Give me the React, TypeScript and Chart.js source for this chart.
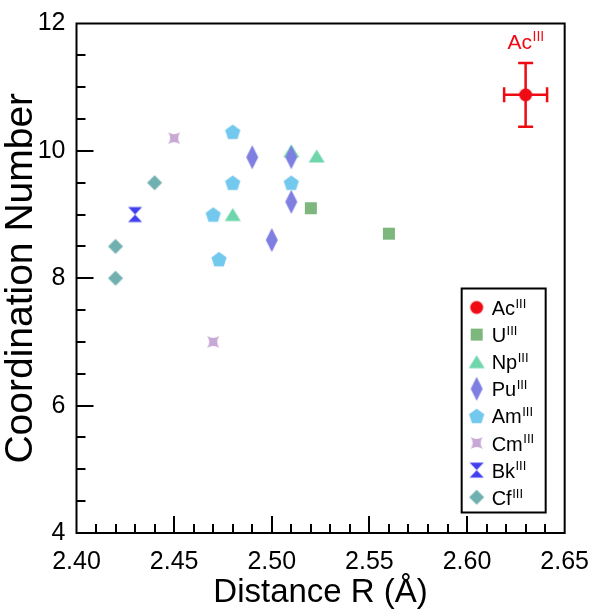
import React, { useEffect, useRef } from "react";
import { Chart, registerables } from "chart.js";

Chart.register(...registerables);

// ---------- data ----------
const seriesNames = ["Ac", "U", "Np", "Pu", "Am", "Cm", "Bk", "Cf"];
const seriesColors = [
  "rgb(240,10,20)",
  "rgb(125,183,125)",
  "rgb(111,214,172)",
  "rgb(127,127,225)",
  "rgb(115,200,238)",
  "rgb(200,168,212)",
  "rgb(64,64,240)",
  "rgb(112,176,176)",
];
const seriesShapes = ["circle", "square", "triangle", "tallDiamond", "pentagon", "star4", "hourglass", "diamond"];

const acX = [2.63];
const acY = [10.88];
const acXErr = [0.011];
const acYErr = [0.5];
const uX = [2.52, 2.56];
const uY = [9.1, 8.7];
const npX = [2.48, 2.51, 2.523];
const npY = [9.0, 10.0, 9.92];
const puX = [2.49, 2.5, 2.51, 2.51];
const puY = [9.9, 8.6, 9.9, 9.2];
const amX = [2.47, 2.473, 2.48, 2.48, 2.51];
const amY = [9.0, 8.3, 9.5, 10.3, 9.5];
const cmX = [2.45, 2.47];
const cmY = [10.2, 7.0];
const bkX = [2.43];
const bkY = [9.0];
const cfX = [2.42, 2.42, 2.44];
const cfY = [8.0, 8.5, 9.5];

const seriesX = [acX, uX, npX, puX, amX, cmX, bkX, cfX];
const seriesY = [acY, uY, npY, puY, amY, cmY, bkY, cfY];

const xMin = 2.4;
const xMax = 2.65;
const xMajorStep = 0.05;
const xMinorStep = 0.01;
const yMin = 4;
const yMax = 12;
const yMajorStep = 2;
const yMinorStep = 0.5;

const FONT = '"Liberation Sans", Arial, Helvetica, sans-serif';

function makeMarker(kind: string, color: string): HTMLCanvasElement {
  const size = 30;
  const c = document.createElement("canvas");
  c.width = size;
  c.height = size;
  const g = c.getContext("2d") as CanvasRenderingContext2D;
  g.fillStyle = color;
  g.translate(size / 2, size / 2);
  g.beginPath();
  switch (kind) {
    case "circle":
      g.arc(0, 0, 6.5, 0, Math.PI * 2);
      break;
    case "square":
      g.rect(-6, -6, 12, 12);
      break;
    case "triangle":
      g.moveTo(0, -6.5);
      g.lineTo(8, 6.5);
      g.lineTo(-8, 6.5);
      g.closePath();
      break;
    case "tallDiamond":
      g.moveTo(0, -12);
      g.lineTo(6, 0);
      g.lineTo(0, 12);
      g.lineTo(-6, 0);
      g.closePath();
      break;
    case "pentagon": {
      const R = 8;
      for (let i = 0; i < 5; i++) {
        const a = (-90 + 72 * i) * (Math.PI / 180);
        const px = R * Math.cos(a);
        const py = R * Math.sin(a) + 0.8;
        if (i === 0) g.moveTo(px, py);
        else g.lineTo(px, py);
      }
      g.closePath();
      break;
    }
    case "star4":
      g.moveTo(-6, -6);
      g.quadraticCurveTo(0, -2, 6, -6);
      g.quadraticCurveTo(2, 0, 6, 6);
      g.quadraticCurveTo(0, 2, -6, 6);
      g.quadraticCurveTo(-2, 0, -6, -6);
      g.closePath();
      break;
    case "hourglass":
      g.moveTo(-7, -7.5);
      g.lineTo(7, -7.5);
      g.lineTo(0, 0);
      g.closePath();
      g.moveTo(-7, 7.5);
      g.lineTo(7, 7.5);
      g.lineTo(0, 0);
      g.closePath();
      break;
    case "diamond":
      g.moveTo(0, -7.5);
      g.lineTo(7.5, 0);
      g.lineTo(0, 7.5);
      g.lineTo(-7.5, 0);
      g.closePath();
      break;
  }
  g.fill();
  return c;
}

function drawSupLabel(ctx: CanvasRenderingContext2D, base: string, sup: string, x: number, baseline: number, size: number, supSize: number, align: "left" | "center") {
  ctx.save();
  ctx.textBaseline = "alphabetic";
  ctx.textAlign = "left";
  ctx.font = `${size}px ${FONT}`;
  const wBase = ctx.measureText(base).width;
  ctx.font = `${supSize}px ${FONT}`;
  const wSup = ctx.measureText(sup).width;
  let x0 = x;
  if (align === "center") x0 = x - (wBase + wSup) / 2;
  ctx.font = `${size}px ${FONT}`;
  ctx.fillText(base, x0, baseline);
  ctx.font = `${supSize}px ${FONT}`;
  ctx.fillText(sup, x0 + wBase + 0.5, baseline - size * 0.36);
  ctx.restore();
}

export default function App() {
  const ref = useRef<HTMLCanvasElement | null>(null);

  useEffect(() => {
    document.body.style.margin = "0";
    const canvas = ref.current;
    if (!canvas) return;
    const markers = seriesShapes.map((s, i) => makeMarker(s, seriesColors[i]));

    const datasets = seriesNames.map((name, i) => ({
      label: name,
      data: seriesX[i].map((x, k) => ({ x, y: seriesY[i][k] })),
      pointStyle: markers[i] as any,
      pointRadius: 5,
      backgroundColor: seriesColors[i],
      borderColor: seriesColors[i],
      order: -i,
    }));

    const decor = {
      id: "decor",
      beforeDatasetsDraw(chart: any) {
        const ctx = chart.ctx as CanvasRenderingContext2D;
        const xs = chart.scales.x;
        const ys = chart.scales.y;
        ctx.save();
        ctx.strokeStyle = seriesColors[0];
        ctx.lineWidth = 2.5;
        for (let k = 0; k < acX.length; k++) {
          const cx = xs.getPixelForValue(acX[k]);
          const cy = ys.getPixelForValue(acY[k]);
          const xl = xs.getPixelForValue(acX[k] - acXErr[k]);
          const xr = xs.getPixelForValue(acX[k] + acXErr[k]);
          const yt = ys.getPixelForValue(acY[k] + acYErr[k]);
          const yb = ys.getPixelForValue(acY[k] - acYErr[k]);
          const cap = 7.5;
          ctx.beginPath();
          ctx.moveTo(xl, cy);
          ctx.lineTo(xr, cy);
          ctx.moveTo(xl, cy - cap);
          ctx.lineTo(xl, cy + cap);
          ctx.moveTo(xr, cy - cap);
          ctx.lineTo(xr, cy + cap);
          ctx.moveTo(cx, yt);
          ctx.lineTo(cx, yb);
          ctx.moveTo(cx - cap, yt);
          ctx.lineTo(cx + cap, yt);
          ctx.moveTo(cx - cap, yb);
          ctx.lineTo(cx + cap, yb);
          ctx.stroke();
          ctx.fillStyle = seriesColors[0];
          drawSupLabel(ctx, "Ac", "III", cx, cy - 46, 21, 14, "center");
        }
        ctx.restore();
      },
      afterDraw(chart: any) {
        const ctx = chart.ctx as CanvasRenderingContext2D;
        const { left, right, top, bottom } = chart.chartArea;
        const xs = chart.scales.x;
        const ys = chart.scales.y;
        ctx.save();
        ctx.strokeStyle = "#000";
        ctx.lineWidth = 2;
        ctx.strokeRect(left, top, right - left, bottom - top);
        ctx.beginPath();
        const nx = Math.round((xMax - xMin) / xMinorStep);
        const perX = Math.round(xMajorStep / xMinorStep);
        for (let i = 1; i < nx; i++) {
          const px = Math.round(xs.getPixelForValue(xMin + i * xMinorStep));
          const len = i % perX === 0 ? 17 : 9;
          ctx.moveTo(px, bottom);
          ctx.lineTo(px, bottom - len);
        }
        const ny = Math.round((yMax - yMin) / yMinorStep);
        const perY = Math.round(yMajorStep / yMinorStep);
        for (let j = 1; j < ny; j++) {
          const py = Math.round(ys.getPixelForValue(yMin + j * yMinorStep));
          const len = j % perY === 0 ? 17 : 9;
          ctx.moveTo(left, py);
          ctx.lineTo(left + len, py);
        }
        ctx.stroke();

        // legend
        const bx = right - 103;
        const by = top + 265;
        const bw = 84;
        const bh = 224;
        ctx.fillStyle = "#fff";
        ctx.fillRect(bx, by, bw, bh);
        ctx.strokeRect(bx, by, bw, bh);
        const step = 27.1;
        for (let i = 0; i < seriesNames.length; i++) {
          const cy = by + 19 + i * step;
          const m = markers[i];
          ctx.drawImage(m, bx + 15 - m.width / 2, cy - m.height / 2);
          ctx.fillStyle = "#000";
          drawSupLabel(ctx, seriesNames[i], "III", bx + 30, cy + 7.5, 20, 13, "left");
        }
        ctx.restore();
      },
    };

    const chart = new Chart(canvas, {
      type: "scatter",
      data: { datasets },
      plugins: [decor],
      options: {
        animation: false,
        responsive: false,
        devicePixelRatio: 1,
        events: [],
        layout: { padding: { top: 13, right: 27, left: 0, bottom: 0 } },
        plugins: {
          legend: { display: false },
          tooltip: { enabled: false },
        },
        scales: {
          x: {
            type: "linear",
            min: xMin,
            max: xMax,
            afterFit(scale: any) {
              scale.height = 78;
            },
            afterBuildTicks(scale: any) {
              const t = [];
              for (let i = 0; i <= Math.round((xMax - xMin) / xMajorStep); i++) t.push({ value: +(xMin + i * xMajorStep).toFixed(2) });
              scale.ticks = t;
            },
            grid: { display: false, drawTicks: false },
            border: { display: false },
            ticks: {
              padding: 14,
              color: "#000",
              font: { family: FONT, size: 25 },
              callback: (v: any) => Number(v).toFixed(2),
              maxRotation: 0,
            },
            title: {
              display: true,
              text: "Distance R (Å)",
              color: "#000",
              font: { family: FONT, size: 33, lineHeight: 1 },
              padding: { top: 0, bottom: 2 },
            },
          },
          y: {
            type: "linear",
            min: yMin,
            max: yMax,
            afterFit(scale: any) {
              scale.width = 76.5;
            },
            afterBuildTicks(scale: any) {
              const t = [];
              for (let v = yMin; v <= yMax; v += yMajorStep) t.push({ value: v });
              scale.ticks = t;
            },
            grid: { display: false, drawTicks: false },
            border: { display: false },
            ticks: {
              padding: 11,
              color: "#000",
              font: { family: FONT, size: 25, lineHeight: 1 },
            },
            title: {
              display: true,
              text: "Coordination Number",
              color: "#000",
              font: { family: FONT, size: 39, lineHeight: 1 },
              padding: { top: 2, bottom: 0 },
            },
          },
        },
      },
    });
    return () => chart.destroy();
  }, []);

  return (
    <div style={{ width: 603, height: 611 }}>
      <canvas ref={ref} width={603} height={611} />
    </div>
  );
}
